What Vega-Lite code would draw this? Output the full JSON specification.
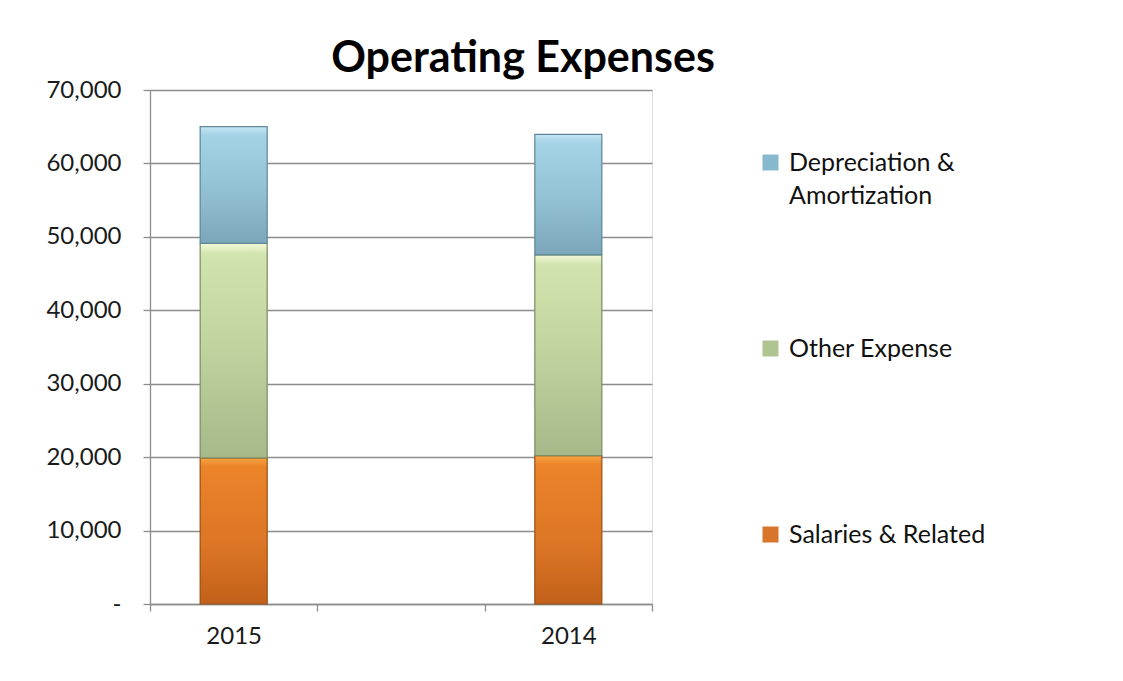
{
  "$schema": "https://vega.github.io/schema/vega-lite/v6.json",
  "width": 502,
  "height": 514,
  "autosize": "none",
  "padding": {"left": 150, "top": 90, "right": 471, "bottom": 77},
  "background": "white",
  "title": {
    "text": "Operating Expenses",
    "font": "Lato",
    "fontSize": 43,
    "fontWeight": "bold",
    "color": "#000000",
    "anchor": "middle",
    "frame": "group",
    "dx": 122,
    "offset": -3
  },
  "data": {
    "values": [
      {"year": "2015", "series": "Salaries & Related", "amount": 19900},
      {"year": "2015", "series": "Other Expense", "amount": 29200},
      {"year": "2015", "series": "Depreciation & Amortization", "amount": 15900},
      {"year": "2014", "series": "Salaries & Related", "amount": 20200},
      {"year": "2014", "series": "Other Expense", "amount": 27350},
      {"year": "2014", "series": "Depreciation & Amortization", "amount": 16400}
    ]
  },
  "transform": [
    {"stack": "amount", "groupby": ["year"], "sort": [{"field": "series", "order": "descending"}], "as": ["y0", "y1"]}
  ],
  "encoding": {
    "x": {
      "field": "year",
      "type": "nominal",
      "scale": {"domain": ["2015", " ", "2014"], "paddingInner": 0, "paddingOuter": 0},
      "axis": {
        "title": null,
        "labelAngle": 0,
        "labelFont": "Lato",
        "labelFontSize": 24,
        "labelColor": "#1a1a1a",
        "labelPadding": 13,
        "tickBand": "extent",
        "tickSize": 7,
        "tickColor": "#8c8c8c",
        "tickWidth": 1.3,
        "domainColor": "#8c8c8c",
        "domainWidth": 1.3
      }
    },
    "y": {
      "field": "y1",
      "type": "quantitative",
      "scale": {"domain": [0, 70000], "nice": false},
      "axis": {
        "title": null,
        "values": [0, 10000, 20000, 30000, 40000, 50000, 60000, 70000],
        "labelExpr": "datum.value == 0 ? '-' : format(datum.value, ',')",
        "labelFont": "Lato",
        "labelFontSize": 24,
        "labelColor": "#1a1a1a",
        "labelPadding": 22,
        "tickSize": 7,
        "tickColor": "#8c8c8c",
        "tickWidth": 1.3,
        "domainColor": "#8c8c8c",
        "domainWidth": 1.3,
        "grid": true,
        "gridColor": "#8c8c8c",
        "gridWidth": 1.3
      }
    },
    "y2": {"field": "y0"}
  },
  "layer": [
    {
      "mark": {"type": "bar", "width": 67},
      "encoding": {
        "color": {
          "field": "series",
          "type": "nominal",
          "scale": {
            "domain": ["Depreciation & Amortization", "Other Expense", "Salaries & Related"],
            "range": ["#86b8ce", "#aec592", "#d8752a"]
          },
          "legend": {
            "title": null,
            "orient": "none",
            "legendX": 608,
            "legendY": 60,
            "direction": "vertical",
            "symbolType": "square",
            "symbolSize": 256,
            "symbolStrokeWidth": 0,
            "labelFont": "Lato",
            "labelFontSize": 25,
            "labelColor": "#111111",
            "labelOffset": 6,
            "labelLimit": 400,
            "rowPadding": 127,
            "labelExpr": "datum.label == 'Depreciation & Amortization' ? ['Depreciation &', 'Amortization'] : [datum.label, '']",
            "encode": {"labels": {"update": {"lineHeight": {"value": 33}}}}
          }
        }
      }
    },
    {
      "transform": [{"filter": "datum.series == 'Salaries & Related'"}],
      "mark": {
        "type": "bar",
        "width": 67,
        "stroke": "#9a5216",
        "strokeWidth": 1.2,
        "fill": {
          "gradient": "linear", "x1": 0, "y1": 0, "x2": 0, "y2": 1,
          "stops": [
            {"offset": 0, "color": "#f7a440"},
            {"offset": 0.06, "color": "#ec842a"},
            {"offset": 0.6, "color": "#dc7525"},
            {"offset": 1, "color": "#c2611b"}
          ]
        }
      }
    },
    {
      "transform": [{"filter": "datum.series == 'Other Expense'"}],
      "mark": {
        "type": "bar",
        "width": 67,
        "stroke": "#7c8d63",
        "strokeWidth": 1.2,
        "fill": {
          "gradient": "linear", "x1": 0, "y1": 0, "x2": 0, "y2": 1,
          "stops": [
            {"offset": 0, "color": "#f2f8d8"},
            {"offset": 0.05, "color": "#d2e4ad"},
            {"offset": 0.5, "color": "#bfd39f"},
            {"offset": 1, "color": "#a5b98a"}
          ]
        }
      }
    },
    {
      "transform": [{"filter": "datum.series == 'Depreciation & Amortization'"}],
      "mark": {
        "type": "bar",
        "width": 67,
        "stroke": "#5f8799",
        "strokeWidth": 1.2,
        "fill": {
          "gradient": "linear", "x1": 0, "y1": 0, "x2": 0, "y2": 1,
          "stops": [
            {"offset": 0, "color": "#c4e6f3"},
            {"offset": 0.07, "color": "#a5d3e6"},
            {"offset": 0.5, "color": "#95c3d6"},
            {"offset": 1, "color": "#7ca6b9"}
          ]
        }
      }
    }
  ]
}
